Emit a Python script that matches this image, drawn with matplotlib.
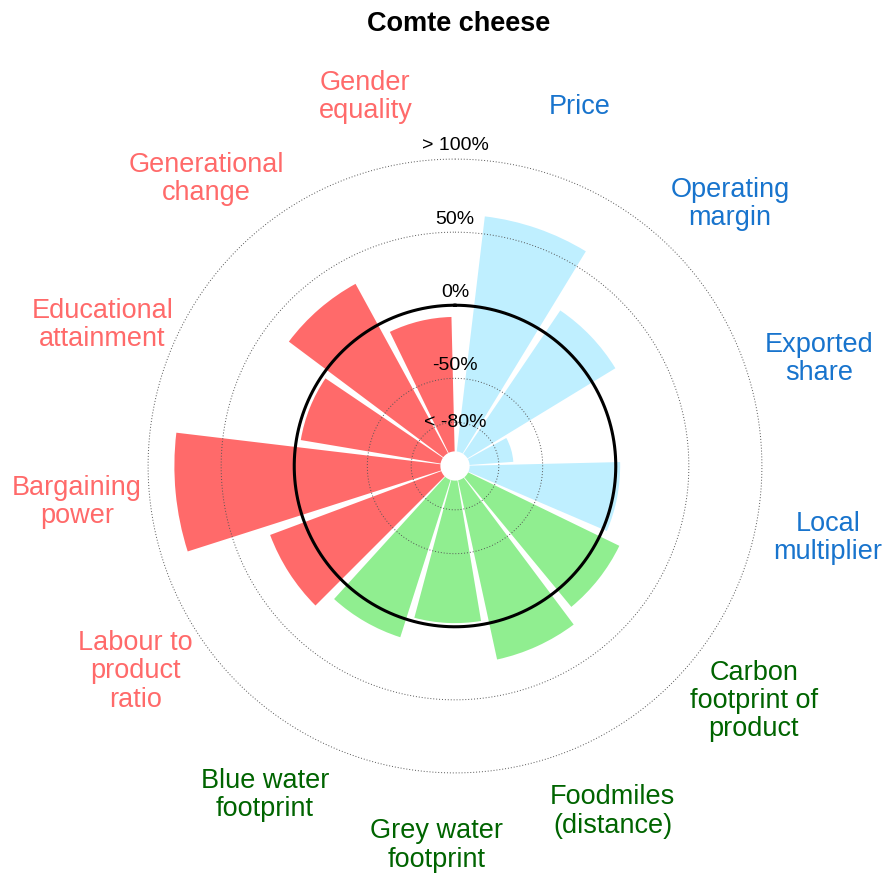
import numpy as np
import matplotlib
matplotlib.use("Agg")
from matplotlib import pyplot as plt

plt.rcParams['font.family'] = ['Liberation Sans', 'DejaVu Sans']

# indicateurs, dans le sens horaire depuis le haut
labels = ["Price", "Operating\nmargin", "Exported\nshare", "Local\nmultiplier",
          "Carbon\nfootprint of\nproduct", "Foodmiles\n(distance)", "Grey water\nfootprint",
          "Blue water\nfootprint", "Labour to\nproduct\nratio", "Bargaining\npower",
          "Educational\nattainment", "Generational\nchange", "Gender\nequality"]
groups = ["eco", "eco", "eco", "eco", "env", "env", "env", "env",
          "soc", "soc", "soc", "soc", "soc"]
values = [62, 18.5, -70, 3, 15, 25.5, -2.5, 13, 25, 82, -3, 32, -8]

grid_vals = [100, 50, 0, -50, -80]
grid_text = ["> 100%", "50%", "0%", "-50%", "< -80%"]
grid_text_r = [109, 59, 9, -41, -80]

bar_col = {"eco": "#BFEFFF", "env": "#90EE90", "soc": "#FF6A6A"}
txt_col = {"eco": "#1874CD", "env": "#006400", "soc": "#FF6A6A"}

n = len(values)
slot = 2 * np.pi / (n + 0.2)
theta = (np.arange(n) + 0.7) * slot

fig = plt.figure(figsize=(8.83, 8.75), dpi=100)
ax = fig.add_axes([75 / 883, 29 / 875, 760 / 883, 760 / 875], projection='polar')
ax.set_theta_zero_location('N')
ax.set_theta_direction(-1)
ax.set_ylim(-110, 150)

base = -100
ax.bar(theta, np.array(values) - base, width=0.9 * slot, bottom=base,
       color=[bar_col[g] for g in groups], edgecolor='none', zorder=2)

t = np.linspace(0, 2 * np.pi, 400)
for g in grid_vals:
    if g == 0:
        continue
    ax.plot(t, np.full_like(t, g), color='#555555', lw=0.7, ls=(0, (1, 2)), zorder=3)
ax.plot(t, np.zeros_like(t), color='black', lw=2.2, zorder=4)

for txt, r in zip(grid_text, grid_text_r):
    ax.text(0, r, txt, ha='center', va='center', fontsize=14, zorder=5)

for th, lab, g in zip(theta, labels, groups):
    ax.text(th, 150, lab, ha='center', va='center', fontsize=19.5, color=txt_col[g],
            linespacing=1.12, clip_on=False)

ax.set_xticks([])
ax.set_yticks([])
ax.grid(False)
ax.spines['polar'].set_visible(False)

fig.text(459 / 883, 1 - 24 / 875, "Comte cheese", ha='center', va='center',
         fontsize=19.5, fontweight='bold')

plt.savefig("out.png", dpi=100)
